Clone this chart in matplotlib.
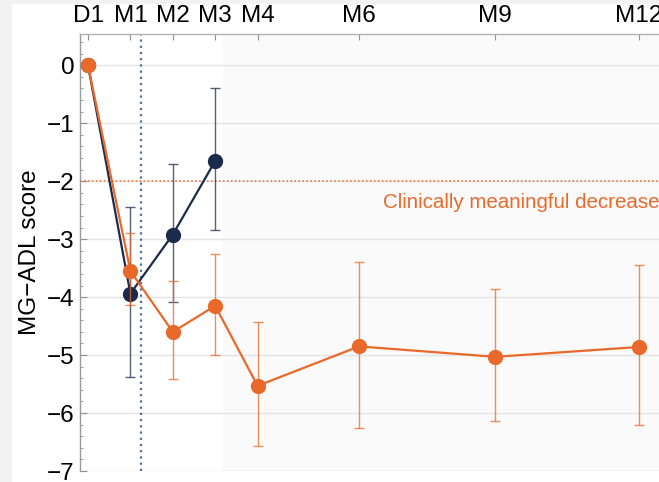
import numpy as np
import matplotlib
matplotlib.use("Agg")
import matplotlib.pyplot as plt
from matplotlib.patches import Rectangle
from matplotlib.ticker import MultipleLocator

plt.rcParams['font.family'] = ['Liberation Sans', 'DejaVu Sans']

# Visit schedule (study day) and labels
visit_labels = ["D1", "M1", "M2", "M3", "M4", "M6", "M9", "M12"]
visit_days = [1, 29, 57, 85, 113, 180, 270, 365]

# Change from baseline in MG-ADL score, mean with 95% CI
orange_mean = [0.0, -3.55, -4.60, -4.15, -5.53, -4.85, -5.03, -4.86]
orange_lo = [np.nan, -4.14, -5.41, -5.00, -6.57, -6.26, -6.14, -6.21]
orange_hi = [np.nan, -2.90, -3.72, -3.25, -4.43, -3.40, -3.86, -3.45]

navy_days = [1, 29, 57, 85]
navy_mean = [0.0, -3.94, -2.92, -1.65]
navy_lo = [np.nan, -5.38, -4.09, -2.84]
navy_hi = [np.nan, -2.44, -1.71, -0.40]

threshold = -2.0
threshold_text = "Clinically meaningful decrease"
event_day = 36
followup_start = 90

ORANGE = "#E8692A"
NAVY = "#1C2A4B"

W, H = 659, 482
fig = plt.figure(figsize=(W / 100, H / 100), dpi=100, facecolor="#f2f2f2")
fig.patches.append(Rectangle((12 / W, 0), 1, (H - 4) / H, transform=fig.transFigure,
                             facecolor="white", edgecolor="none", zorder=-10))

ax = fig.add_axes([80 / W, 11 / H, 600 / W, 437 / H])
ax.set_facecolor("none")
ax.set_xlim(-4.3, 392)
ax.set_ylim(-7.0, 0.54)

# shaded follow-up period
ax.axvspan(followup_start, 400, color="#fafafa", zorder=0, lw=0)

# gridlines
for yv in range(-7, 1):
    ax.axhline(yv, color="#e4e4e4", lw=1.0, zorder=1)

ax.axhline(threshold, color=ORANGE, lw=1.1, ls=(0, (1, 1.6)), zorder=2)
ax.axvline(event_day, color="#4f6f94", lw=1.6, ls=(0, (1, 1.8)), zorder=2)
ax.text(378.5, -2.36, threshold_text, color=ORANGE, fontsize=14.8,
        ha="right", va="center", zorder=3)


def series(days, mean, lo, hi, color, z):
    mean = np.asarray(mean)
    lo = np.asarray(lo)
    hi = np.asarray(hi)
    yerr = np.vstack([mean - lo, hi - mean])
    ok = ~np.isnan(lo)
    d = np.asarray(days)
    ax.errorbar(d[ok], mean[ok], yerr=yerr[:, ok], fmt="none", ecolor=color,
                elinewidth=1.0, capsize=3.4, capthick=1.0, alpha=0.75, zorder=z)
    ax.plot(d, mean, color=color, lw=1.6, marker="o", ms=11,
            markeredgewidth=0, zorder=z + 1)


series(navy_days, navy_mean, navy_lo, navy_hi, NAVY, 4)
series(visit_days, orange_mean, orange_lo, orange_hi, ORANGE, 6)

# axes styling
for s in ["right", "bottom"]:
    ax.spines[s].set_visible(False)
ax.spines["top"].set_color("#b0b0b0")
ax.spines["left"].set_color("#9a9a9a")
ax.spines["top"].set_linewidth(1.0)
ax.spines["left"].set_linewidth(1.0)

ax.xaxis.tick_top()
ax.set_xticks(visit_days)
ax.set_xticklabels(visit_labels, fontsize=17.5)
ax.tick_params(axis="x", direction="in", length=4, width=0.8, color="#909090", pad=5)

ax.yaxis.set_major_locator(MultipleLocator(1))
ax.yaxis.set_minor_locator(MultipleLocator(0.2))
ax.tick_params(axis="y", which="major", direction="in", length=5, width=0.8,
               color="#909090", labelsize=17.5, pad=4)
ax.tick_params(axis="y", which="minor", direction="in", length=2.5, width=0.7,
               color="#a0a0a0")
ax.set_ylabel("MG\u2212ADL score", fontsize=17.5, labelpad=4)

fig.savefig("out.png", dpi=100, facecolor=fig.get_facecolor())
